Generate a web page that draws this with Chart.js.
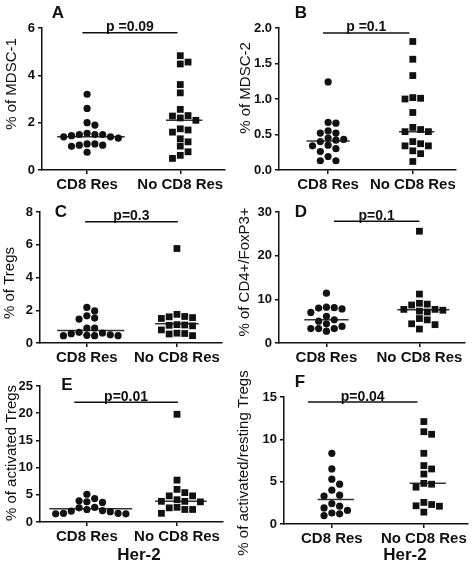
<!DOCTYPE html>
<html>
<head>
<meta charset="utf-8">
<script src="https://cdn.jsdelivr.net/npm/chart.js@4.4.1/dist/chart.umd.min.js"></script>
<style>
  html, body { margin: 0; padding: 0; background: #fff; }
  #wrap { position: relative; width: 473px; height: 561px; overflow: hidden; }
  #wrap canvas { position: absolute; }
</style>
</head>
<body>
<div id="wrap"></div>
<script>
const groups = ['CD8 Res', 'No CD8 Res'];

// A - MDSC-1
const mdsc1Cd8 = [3.2, 2.6, 2.0, 1.9, 1.55, 1.5, 1.5, 1.5, 1.45, 1.4, 1.4, 1.35, 1.1, 1.1, 1.05, 1.05, 1.0, 0.75];
const mdsc1NoCd8 = [4.83, 4.56, 4.48, 3.61, 3.26, 2.56, 2.3, 2.28, 2.2, 2.1, 1.74, 1.69, 1.6, 1.32, 1.19, 1.01, 0.77, 0.62, 0.49];
// B - MDSC-2
const mdsc2Cd8 = [1.24, 0.67, 0.66, 0.55, 0.52, 0.52, 0.45, 0.43, 0.42, 0.4, 0.35, 0.34, 0.3, 0.26, 0.19, 0.13, 0.13];
const mdsc2NoCd8 = [1.81, 1.56, 1.33, 1.02, 1.01, 1.0, 0.81, 0.6, 0.57, 0.54, 0.54, 0.4, 0.37, 0.34, 0.34, 0.27, 0.23, 0.12];
// C - Tregs
const tregCd8 = [2.17, 1.96, 1.66, 1.52, 1.46, 0.91, 0.91, 0.65, 0.61, 0.57, 0.5, 0.47, 0.45, 0.45, 0.45];
const tregNoCd8 = [5.77, 1.75, 1.62, 1.6, 1.55, 1.5, 1.12, 1.1, 1.08, 1.05, 0.8, 0.6, 0.58, 0.55, 0.45];
// D - CD4+/FoxP3+
const foxp3Cd8 = [11.4, 8.2, 8.1, 8.0, 7.8, 7.0, 6.1, 5.3, 5.0, 4.4, 3.8, 3.3, 3.3, 3.3, 2.7];
const foxp3NoCd8 = [25.6, 11.2, 9.1, 8.9, 8.7, 7.7, 7.7, 7.5, 7.3, 7.1, 5.6, 5.3, 4.4, 4.2, 3.2];
// E - activated Tregs
const actTregCd8 = [5.1, 4.3, 3.9, 3.7, 3.6, 2.7, 2.6, 2.3, 2.1, 2.0, 1.9, 1.6, 1.6, 1.5, 1.5];
const actTregNoCd8 = [19.8, 7.7, 6.0, 5.4, 4.8, 4.8, 4.1, 3.8, 3.8, 3.7, 2.7, 2.6, 2.3, 2.3, 1.6];
// F - activated/resting Tregs
const ratioCd8 = [8.35, 6.5, 5.3, 4.7, 4.0, 3.4, 3.3, 2.4, 2.1, 1.9, 1.6, 1.3, 1.2, 1.0];
const ratioNoCd8 = [12.1, 10.9, 10.6, 8.35, 6.9, 6.5, 5.9, 4.8, 4.7, 4.35, 2.55, 2.3, 2.15, 2.1, 1.4];

const panelLetters = ['A', 'B', 'C', 'D', 'E', 'F'];
const yTitles = ['% of MDSC-1', '% of MDSC-2', '% of Tregs', '% of CD4+/FoxP3+',
                 '% of activated Tregs', '% of activated/resting Tregs'];
const yMax = [6, 2, 8, 30, 25, 15];
const yStep = [2, 0.5, 2, 10, 5, 5];
const pTexts = ['p =0.09', 'p =0.1', 'p=0.3', 'p=0.1', 'p=0.01', 'p=0.04'];
const pLevel = [5.8, 1.93, 7.4, 27.9, 22, 14.4];
const medianCd8 = [1.4, 0.41, 0.77, 5.3, 2.44, 2.9];
const medianNoCd8 = [2.1, 0.54, 1.17, 7.6, 3.8, 4.8];
const xTitle = 'Her-2';

const seriesCd8 = [mdsc1Cd8, mdsc2Cd8, tregCd8, foxp3Cd8, actTregCd8, ratioCd8];
const seriesNoCd8 = [mdsc1NoCd8, mdsc2NoCd8, tregNoCd8, foxp3NoCd8, actTregNoCd8, ratioNoCd8];

// page layout: canvas box [x,y,w,h], chart area [l,t,r,b], x range, p bar span
const layout = [
  { box: [0, 0, 236, 190],   area: [42, 28, 225, 170],   xr: [0.516, 2.48], pSpan: [0.95, 1.97], letterAt: [58, 13],  yTitleAt: [12, 84] },
  { box: [236, 0, 237, 190], area: [279, 28, 456, 170],  xr: [0.42, 2.51],  pSpan: [0.94, 1.96], letterAt: [301, 13], yTitleAt: [246, 88] },
  { box: [0, 190, 236, 175], area: [40, 212, 222, 343],  xr: [0.48, 2.5],   pSpan: [0.98, 2.01], letterAt: [61, 212], yTitleAt: [10, 283] },
  { box: [236, 190, 237, 175], area: [279, 212, 465, 343], xr: [0.49, 2.49], pSpan: [1.08, 2.0], letterAt: [301, 212], yTitleAt: [245, 272] },
  { box: [0, 365, 236, 200], area: [40, 386, 223, 522],  xr: [0.48, 2.51],  pSpan: [0.86, 2.01], letterAt: [67, 385], yTitleAt: [12, 453], xTitleAt: [139, 555] },
  { box: [236, 365, 237, 200], area: [284, 397, 468, 524], xr: [0.48, 2.48], pSpan: [0.74, 1.93], letterAt: [300, 382], yTitleAt: [244, 463], xTitleAt: [405, 555] },
];

const INK = '#111';
const FONT = '"Liberation Sans", Arial, sans-serif';

// column scatter: spread points with similar values side by side
function swarm(values, center, step, thr) {
  const placed = [];
  return values.map(v => {
    for (let k = 0; ; k++) {
      const slot = k === 0 ? 0 : (k % 2 ? (k + 1) / 2 : -k / 2);
      if (!placed.some(p => p.slot === slot && Math.abs(p.v - v) < thr)) {
        placed.push({ slot, v });
        return { x: center + slot * step, y: v };
      }
    }
  });
}

function spanOf(points, margin) {
  const xs = points.map(p => p.x);
  return [Math.min(...xs) - margin, Math.max(...xs) + margin];
}

const panelText = {
  id: 'panelText',
  afterDraw(chart, args, o) {
    const { ctx, scales } = chart;
    const [cx, cy] = o.box;
    ctx.save();
    ctx.fillStyle = INK;
    ctx.textAlign = 'center';
    // panel letter
    ctx.font = 'bold 17px ' + FONT;
    ctx.textBaseline = 'middle';
    ctx.fillText(o.letter, o.letterAt[0] - cx, o.letterAt[1] - cy);
    // p value above its bar
    ctx.font = 'bold 14px ' + FONT;
    ctx.textBaseline = 'alphabetic';
    const px = scales.x.getPixelForValue((o.pSpan[0] + o.pSpan[1]) / 2);
    const py = scales.y.getPixelForValue(o.pLevel) - 1.5;
    ctx.fillText(o.pText, px, py);
    // y title
    ctx.font = '15px ' + FONT;
    ctx.textBaseline = 'middle';
    ctx.translate(o.yTitleAt[0] - cx, o.yTitleAt[1] - cy);
    ctx.rotate(-Math.PI / 2);
    ctx.fillText(o.yTitle, 0, 0);
    ctx.restore();
    if (o.xTitleAt) {
      ctx.save();
      ctx.fillStyle = INK;
      ctx.textAlign = 'center';
      ctx.textBaseline = 'middle';
      ctx.font = 'bold 17px ' + FONT;
      ctx.fillText(xTitle, o.xTitleAt[0] - cx, o.xTitleAt[1] - cy);
      ctx.restore();
    }
  }
};

const wrap = document.getElementById('wrap');

layout.forEach((L, i) => {
  const [bx, by, bw, bh] = L.box;
  const [al, at, ar, ab] = L.area;
  const canvas = document.createElement('canvas');
  canvas.width = bw;
  canvas.height = bh;
  canvas.style.left = bx + 'px';
  canvas.style.top = by + 'px';
  wrap.appendChild(canvas);

  const unitPx = (ar - al) / (L.xr[1] - L.xr[0]);
  const step = 7.8 / unitPx;
  const thr = yMax[i] * 7 / (ab - at);
  const ptsA = swarm(seriesCd8[i], 1, step, thr);
  const ptsB = swarm(seriesNoCd8[i], 2, step, thr);
  const spanA = spanOf(ptsA, 0.07);
  const spanB = spanOf(ptsB, 0.07);

  new Chart(canvas, {
    type: 'scatter',
    data: {
      datasets: [
        { data: ptsA, pointStyle: 'circle', pointRadius: 3.6, backgroundColor: INK, borderWidth: 0 },
        { data: ptsB, pointStyle: 'rect', pointRadius: 4.8, backgroundColor: INK, borderWidth: 0 },
        { data: [{ x: spanA[0], y: medianCd8[i] }, { x: spanA[1], y: medianCd8[i] }],
          showLine: true, pointRadius: 0, borderColor: '#333', borderWidth: 1.5 },
        { data: [{ x: spanB[0], y: medianNoCd8[i] }, { x: spanB[1], y: medianNoCd8[i] }],
          showLine: true, pointRadius: 0, borderColor: '#333', borderWidth: 1.5 },
        { data: [{ x: L.pSpan[0], y: pLevel[i] }, { x: L.pSpan[1], y: pLevel[i] }],
          showLine: true, pointRadius: 0, borderColor: INK, borderWidth: 1.5 },
      ],
    },
    options: {
      responsive: false,
      animation: false,
      devicePixelRatio: 1,
      layout: { padding: { top: at - by, right: bx + bw - ar, left: 0, bottom: 0 } },
      plugins: {
        legend: { display: false },
        tooltip: { enabled: false },
        panelText: {
          box: L.box, letter: panelLetters[i], letterAt: L.letterAt,
          pText: pTexts[i], pLevel: pLevel[i], pSpan: L.pSpan,
          yTitle: yTitles[i], yTitleAt: L.yTitleAt, xTitleAt: L.xTitleAt,
        },
      },
      scales: {
        x: {
          type: 'linear',
          min: L.xr[0],
          max: L.xr[1],
          afterBuildTicks: s => { s.ticks = [{ value: 1 }, { value: 2 }]; },
          afterFit: s => { s.height = by + bh - ab; },
          ticks: {
            callback: v => groups[Math.round(v) - 1],
            autoSkip: false, maxRotation: 0, minRotation: 0,
            color: INK, padding: 2,
            font: { family: FONT, size: 15, weight: 'bold' },
          },
          grid: { drawOnChartArea: false, drawTicks: true, tickLength: 4, color: INK, lineWidth: 1.5 },
          border: { display: true, color: INK, width: 1.5 },
        },
        y: {
          min: 0,
          max: yMax[i],
          afterFit: s => { s.width = al - bx; },
          ticks: {
            stepSize: yStep[i],
            callback: v => yStep[i] < 1 ? v.toFixed(1) : v,
            color: INK, padding: 3,
            font: { family: FONT, size: 13, weight: 'bold' },
          },
          grid: { drawOnChartArea: false, drawTicks: true, tickLength: 4, color: INK, lineWidth: 1.5 },
          border: { display: true, color: INK, width: 1.5 },
        },
      },
    },
    plugins: [panelText],
  });
});
</script>
</body>
</html>
